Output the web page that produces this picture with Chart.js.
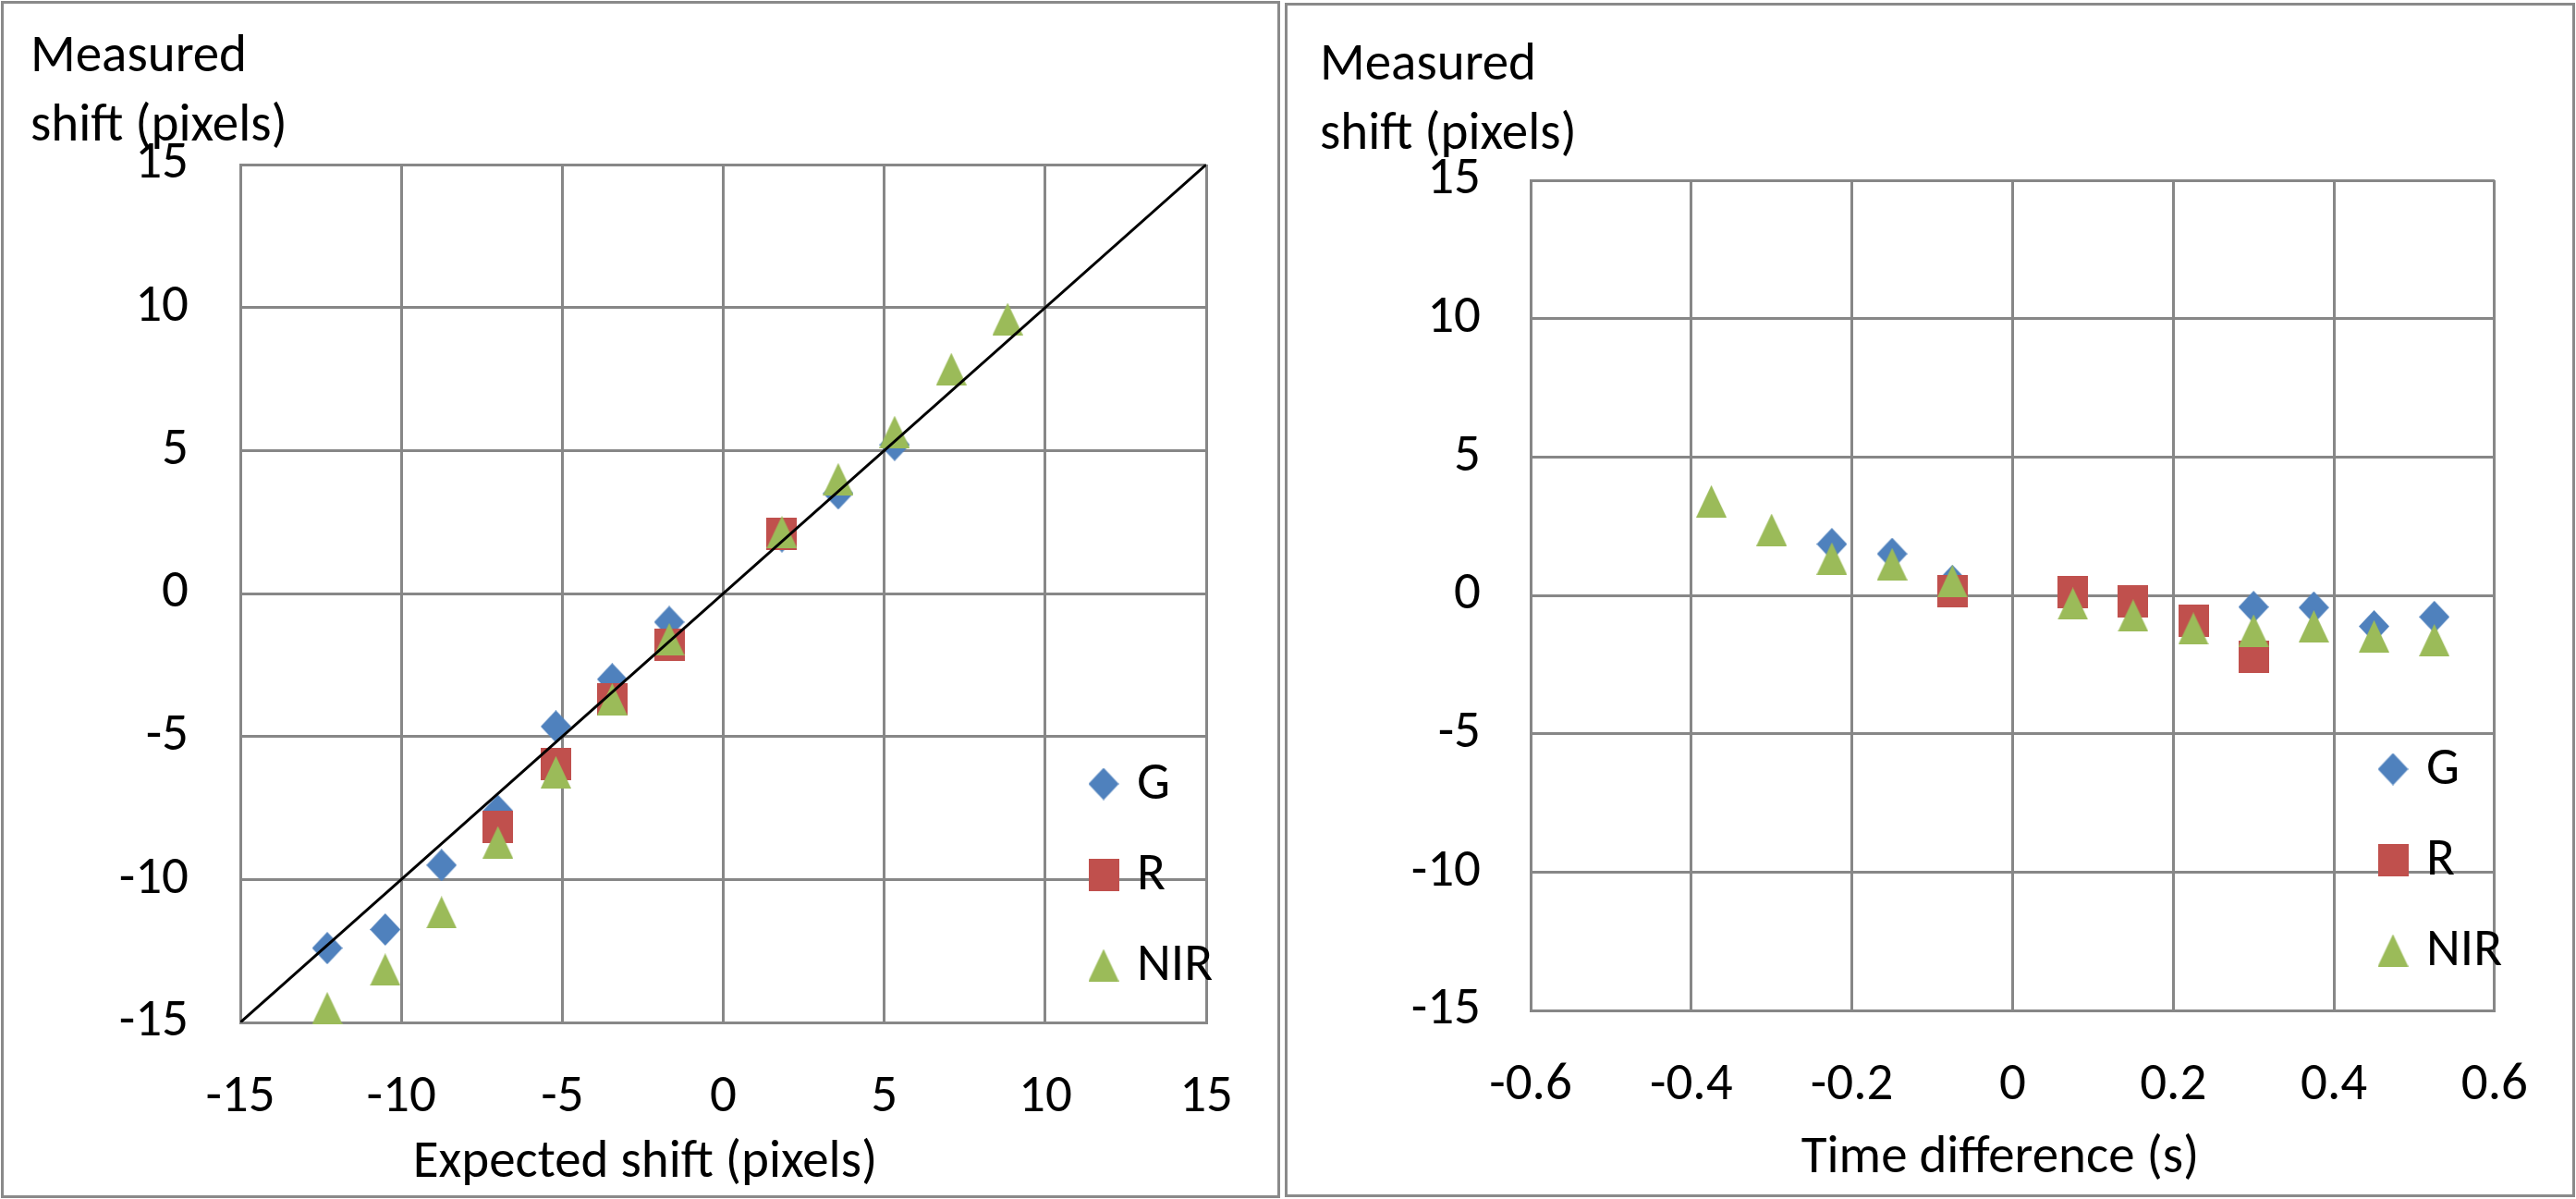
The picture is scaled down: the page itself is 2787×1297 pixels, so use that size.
<!DOCTYPE html>
<html>
<head>
<meta charset="utf-8">
<title>Measured shift</title>
<script src="https://cdn.jsdelivr.net/npm/chart.js@4.4.0/dist/chart.umd.min.js"></script>
<style>
  body { margin: 0; background: #fff; width: 2787px; height: 1297px; position: relative; overflow: hidden; }
  .panel { position: absolute; box-sizing: border-box; border: 3px solid #8a8a8a; background: #fff; }
  #left-panel { left: 1px; top: 1px; width: 1384px; height: 1295px; }
  #right-panel { left: 1390px; top: 3px; width: 1396px; height: 1292px; }
  canvas { position: absolute; left: 0; top: 0; }
</style>
</head>
<body>
<div class="panel" id="left-panel"><canvas id="shift-chart" width="1378" height="1289"></canvas></div>
<div class="panel" id="right-panel"><canvas id="time-chart" width="1390" height="1286"></canvas></div>
<script>
'use strict'

// left panel: measured vs expected shift
const expectedShift = [-12.3, -10.5, -8.75, -7.0, -5.2, -3.45, -1.68, 1.82, 3.57, 5.32, 7.08, 8.83]
const shiftG = [-12.4, -11.75, -9.5, -7.6, -4.65, -3.0, -1.0, 2.0, 3.5, 5.2, null, null]
const shiftR = [null, null, null, -8.15, -5.95, -3.7, -1.8, 2.1, null, null, null, null]
const shiftNIR = [-14.5, -13.15, -11.15, -8.7, -6.25, -3.7, -1.6, 2.15, 4.0, 5.65, 7.85, 9.6]

// right panel: measured shift vs time difference
const timeDiff = [-0.375, -0.3, -0.225, -0.15, -0.075, 0.075, 0.15, 0.225, 0.3, 0.375, 0.45, 0.525]
const timeG = [null, null, 1.85, 1.5, 0.52, null, null, null, -0.42, -0.44, -1.12, -0.78]
const timeR = [null, null, null, null, 0.16, 0.13, -0.21, -0.91, -2.23, null, null, null]
const timeNIR = [3.4, 2.37, 1.33, 1.13, 0.51, -0.3, -0.73, -1.2, -1.27, -1.12, -1.48, -1.62]

const seriesNames = ['G', 'R', 'NIR']
const shiftTicks = { min: -15, max: 15, step: 5 }
const timeTicks = { min: -0.6, max: 0.6, step: 0.2 }
const identityLine = [-15, 15]

const FONT = 'Carlito, Calibri, Lato, sans-serif'
const FONT_SIZE = 57
const GRID = '#878787'
const COLORS = { G: '#4F81BD', R: '#C0504D', NIR: '#9BBB59' }

// excel-like markers, drawn once and used as point images
const makeMarker = (shape, color) => {
  const c = document.createElement('canvas')
  c.width = 33
  c.height = 35
  const ctx = c.getContext('2d')
  ctx.fillStyle = color
  ctx.beginPath()
  if (shape === 'diamond') {
    ctx.moveTo(16.5, 0)
    ctx.lineTo(33, 17.5)
    ctx.lineTo(16.5, 35)
    ctx.lineTo(0, 17.5)
  } else if (shape === 'square') {
    ctx.rect(0, 0, 33, 35)
  } else {
    ctx.moveTo(16.5, 0)
    ctx.lineTo(33, 35)
    ctx.lineTo(0, 35)
  }
  ctx.closePath()
  ctx.fill()
  return c
}

const markers = {
  G: makeMarker('diamond', COLORS.G),
  R: makeMarker('square', COLORS.R),
  NIR: makeMarker('triangle', COLORS.NIR)
}

const toPoints = (xs, ys) => xs
  .map((x, i) => ({ x: x, y: ys[i] }))
  .filter(p => p.y !== null)

const markerDataset = (name, xs, ys, order) => ({
  label: name,
  data: toPoints(xs, ys),
  pointStyle: markers[name],
  pointRadius: 17,
  showLine: false,
  clip: false,
  order: order
})

// axis titles and legend are drawn by hand, like excel places them
const panelText = {
  id: 'panelText',
  afterDraw: (chart, args, opts) => {
    const ctx = chart.ctx
    ctx.save()
    ctx.fillStyle = '#000'
    ctx.font = FONT_SIZE + 'px ' + FONT
    ctx.textBaseline = 'alphabetic'
    ctx.textAlign = 'left'
    ctx.fillText('Measured', opts.yTitle[0], opts.yTitle[1])
    ctx.fillText('shift (pixels)', opts.yTitle[0], opts.yTitle[1] + 75)
    ctx.textAlign = 'center'
    ctx.fillText(opts.xTitle, opts.xTitlePos[0], opts.xTitlePos[1])
    ctx.textAlign = 'left'
    ctx.textBaseline = 'middle'
    seriesNames.forEach((name, i) => {
      const m = markers[name]
      const cy = opts.legend[1] + i * 98
      ctx.drawImage(m, opts.legend[0] - m.width / 2, cy - m.height / 2)
      ctx.fillText(name, opts.legend[0] + 36, cy + 2)
    })
    ctx.restore()
  }
}

const axisFor = (ticks, pad, fit, horizontal, fmt) => ({
  type: 'linear',
  min: ticks.min,
  max: ticks.max,
  ticks: {
    stepSize: ticks.step,
    color: '#000',
    padding: pad,
    maxRotation: 0,
    autoSkip: false,
    font: { family: FONT, size: FONT_SIZE },
    callback: fmt
  },
  grid: { color: GRID, lineWidth: 3, drawTicks: false },
  border: { color: GRID, width: 3 },
  afterFit: (scale) => {
    if (horizontal) scale.height = fit
    else scale.width = fit
  }
})

const intLabel = (v) => String(Math.round(v))
const decLabel = (v) => String(parseFloat(v.toFixed(1)))

new Chart(document.getElementById('shift-chart'), {
  type: 'scatter',
  data: {
    datasets: [
      {
        type: 'line',
        label: 'y = x',
        data: toPoints(identityLine, identityLine),
        borderColor: '#000',
        borderWidth: 3,
        pointRadius: 0,
        order: 0
      },
      markerDataset('NIR', expectedShift, shiftNIR, 1),
      markerDataset('R', expectedShift, shiftR, 2),
      markerDataset('G', expectedShift, shiftG, 3)
    ]
  },
  options: {
    responsive: false,
    devicePixelRatio: 1,
    animation: false,
    events: [],
    layout: { padding: { left: 0, top: 174, right: 69, bottom: 0 } },
    scales: {
      x: axisFor(shiftTicks, 48, 187, true, intLabel),
      y: axisFor(shiftTicks, 56, 256, false, intLabel)
    },
    plugins: {
      legend: { display: false },
      tooltip: { enabled: false },
      panelText: {
        yTitle: [29, 73],
        xTitle: 'Expected shift (pixels)',
        xTitlePos: [694, 1269],
        legend: [1190, 844]
      }
    }
  },
  plugins: [panelText]
})

new Chart(document.getElementById('time-chart'), {
  type: 'scatter',
  data: {
    datasets: [
      markerDataset('NIR', timeDiff, timeNIR, 1),
      markerDataset('R', timeDiff, timeR, 2),
      markerDataset('G', timeDiff, timeG, 3)
    ]
  },
  options: {
    responsive: false,
    devicePixelRatio: 1,
    animation: false,
    events: [],
    layout: { padding: { left: 0, top: 189, right: 65, bottom: 0 } },
    scales: {
      x: axisFor(timeTicks, 48, 199, true, decLabel),
      y: axisFor(shiftTicks, 54, 263, false, intLabel)
    },
    plugins: {
      legend: { display: false },
      tooltip: { enabled: false },
      panelText: {
        yTitle: [35, 80],
        xTitle: 'Time difference (s)',
        xTitlePos: [771, 1262],
        legend: [1196, 826]
      }
    }
  },
  plugins: [panelText]
})
</script>
</body>
</html>
